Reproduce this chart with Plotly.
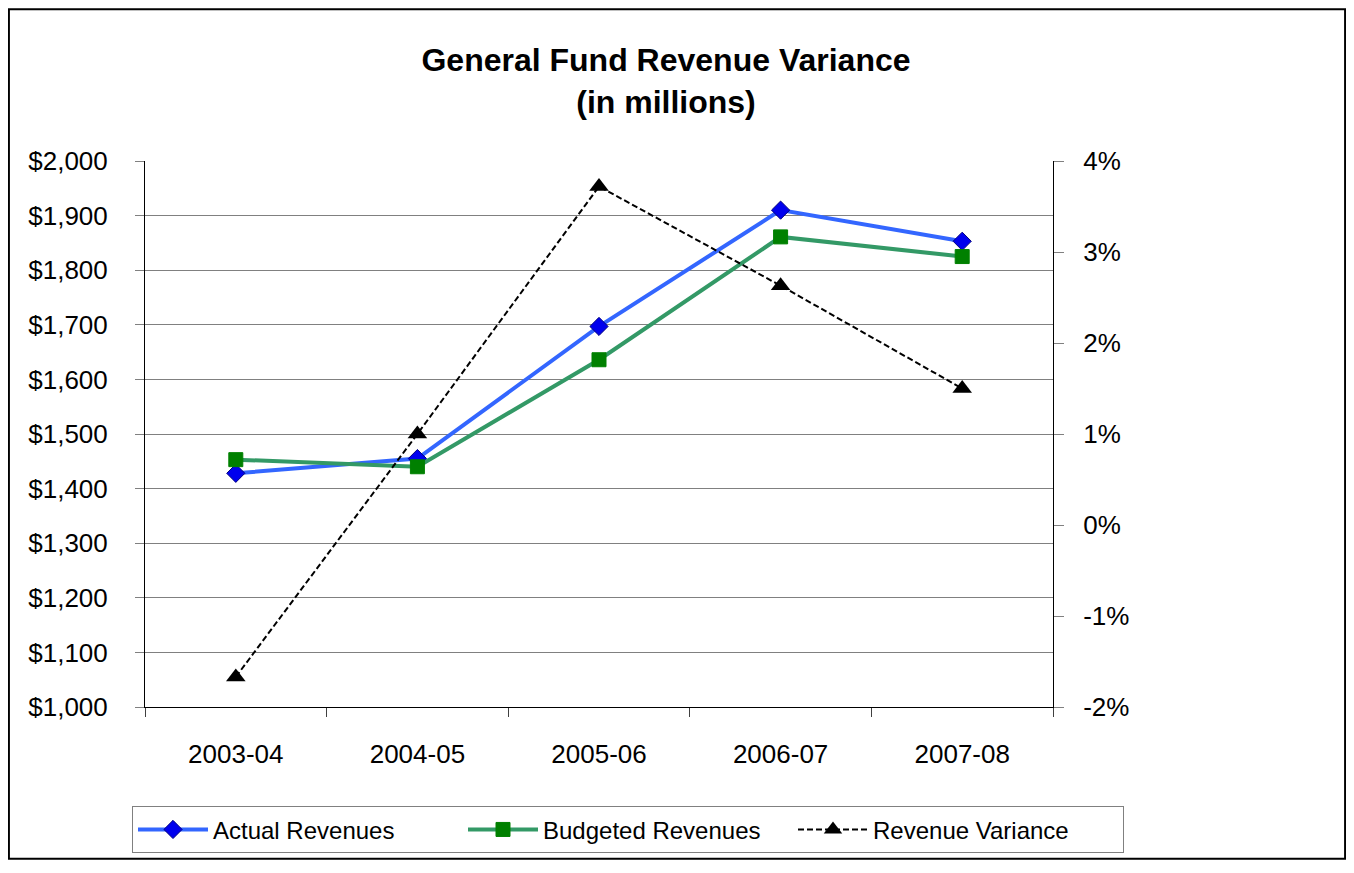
import plotly.graph_objects as go

years = ["2003-04", "2004-05", "2005-06", "2006-07", "2007-08"]
actual = [1428, 1455, 1697, 1910, 1853]
budgeted = [1453, 1440, 1636, 1861, 1825]
variance = [-0.0167, 0.0100, 0.0372, 0.0263, 0.0150]
y2_ticks = [-0.02, -0.01, 0.0, 0.01, 0.02, 0.03, 0.04]
y2_labels = ["-2%", "-1%", "0%", "1%", "2%", "3%", "4%"]

FONT = "Liberation Sans, Arial, sans-serif"
W, H = 1338, 857
L, T, PW, PH = 137, 153, 908, 550

fig = go.Figure()
fig.add_trace(go.Scatter(
    x=years, y=actual, name="Actual Revenues", mode="lines+markers",
    line=dict(color="#3366FF", width=4),
    marker=dict(symbol="diamond", size=14, color="#0000EE", line=dict(color="#000080", width=1)),
))
fig.add_trace(go.Scatter(
    x=years, y=budgeted, name="Budgeted Revenues", mode="lines+markers",
    line=dict(color="#339966", width=4),
    marker=dict(symbol="square", size=14, color="#008000", line=dict(color="#008000", width=1)),
))
fig.add_trace(go.Scatter(
    x=years, y=variance, name="Revenue Variance", mode="lines+markers", yaxis="y2",
    line=dict(color="black", width=2, dash="6px,3px"),
    marker=dict(symbol="triangle-up", size=17, color="black"),
))

fig.update_layout(
    width=W, height=H,
    paper_bgcolor="white", plot_bgcolor="white",
    margin=dict(l=L, r=W - L - PW, t=T, b=H - T - PH),
    font=dict(family=FONT, size=26, color="black"),
    title=dict(text="<b>General Fund Revenue Variance<br>(in millions)</b>",
               x=658 / W, xanchor="center", y=1 - 63 / H, yanchor="middle",
               font=dict(family=FONT, size=32, color="black")),
    xaxis=dict(type="category", range=[-0.5, 4.5], showline=True, linecolor="black", linewidth=1,
               ticks="outside", tickson="boundaries", ticklen=9, tickcolor="#404040",
               showgrid=False, tickfont=dict(size=26), ticklabelstandoff=24, automargin=False),
    yaxis=dict(range=[1000, 2000], dtick=100, tickformat="$,.0f", showline=True,
               linecolor="black", linewidth=1, ticks="outside", ticklen=9, tickcolor="#808080",
               showgrid=True, gridcolor="#808080", gridwidth=1, zeroline=False,
               tickfont=dict(size=26), ticklabelstandoff=22, automargin=False),
    yaxis2=dict(range=[-0.02, 0.04], tickvals=y2_ticks, ticktext=y2_labels,
                overlaying="y", side="right",
                showline=True, linecolor="black", linewidth=1, ticks="outside", ticklen=10,
                tickcolor="#808080", showgrid=False, zeroline=False, tickfont=dict(size=26),
                ticklabelstandoff=14, automargin=False),
    legend=dict(orientation="h", x=(124 - L) / PW, xanchor="left", y=-0.225, yanchor="middle",
                bordercolor="#808080", borderwidth=1, font=dict(size=24),
                entrywidth=245, entrywidthmode="pixels", itemwidth=70),
    showlegend=True,
)

fig.add_shape(type="rect", xref="paper", yref="paper",
              x0=-L / PW + 0.001, x1=(W - L) / PW - 0.001,
              y0=-(H - T - PH) / PH + 0.002, y1=(H - T) / PH - 0.002,
              line=dict(color="black", width=2), layer="below")

fig.write_html("out.html")
